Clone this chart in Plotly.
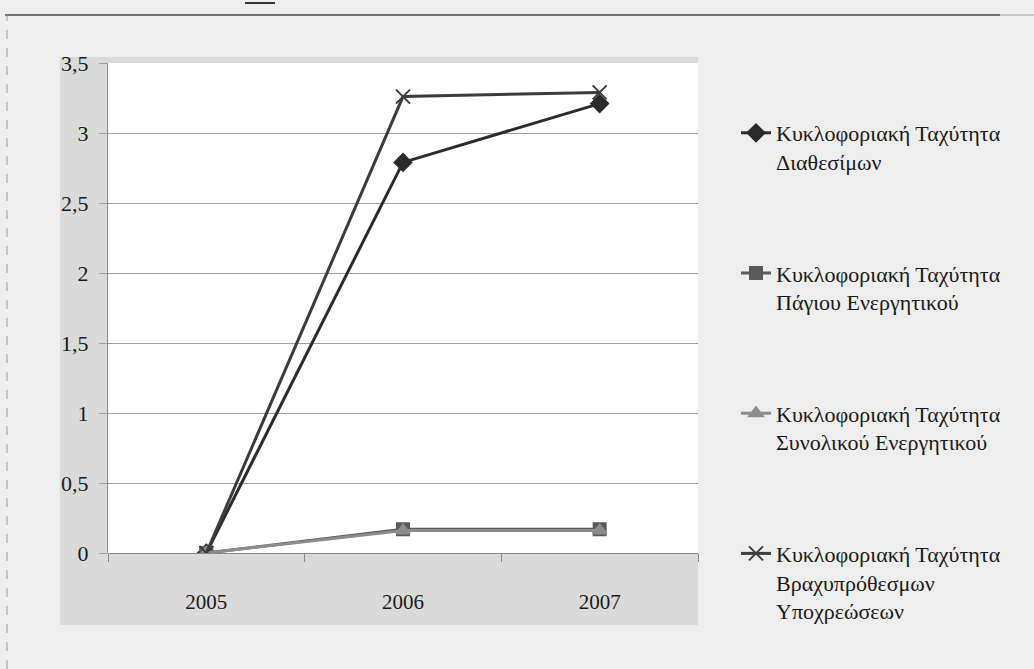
import plotly.graph_objects as go

# Years on the category axis
years = ["2005", "2006", "2007"]

# Turnover ratios per year
diathesimon = [0.0, 2.79, 3.21]
pagiou = [0.0, 0.17, 0.17]
synolikou = [0.0, 0.16, 0.16]
vraxyprothesmon = [0.0, 3.26, 3.29]

series_names = [
    "Κυκλοφοριακή Ταχύτητα<br>Διαθεσίμων",
    "Κυκλοφοριακή Ταχύτητα<br>Πάγιου Ενεργητικού",
    "Κυκλοφοριακή Ταχύτητα<br>Συνολικού Ενεργητικού",
    "Κυκλοφοριακή Ταχύτητα<br>Βραχυπρόθεσμων<br>Υποχρεώσεων",
]

y_tickvals = [0, 0.5, 1, 1.5, 2, 2.5, 3, 3.5]
y_ticktext = ["0", "0,5", "1", "1,5", "2", "2,5", "3", "3,5"]

W, H = 1034, 669
L, R, T, B = 108, 698, 63, 553  # plot area in pixels


def px_x(p):
    return (p - L) / (R - L)


def px_y(p):
    return (B - p) / (B - T)


font_family = "Liberation Serif, DejaVu Serif, serif"

fig = go.Figure()

styles = [
    (diathesimon, "#2b2b2b", "diamond", 13),
    (pagiou, "#5a5a5a", "square", 12),
    (synolikou, "#8c8c8c", "triangle-up", 12),
    (vraxyprothesmon, "#3c3c3c", "x-thin-open", 14),
]

for i, (vals, color, sym, size) in enumerate(styles):
    fig.add_trace(go.Scatter(
        x=years, y=vals, name=series_names[i],
        mode="lines+markers",
        line=dict(color=color, width=3),
        marker=dict(symbol=sym, size=size, color=color,
                    line=dict(color=color, width=2)),
        legendgroup=f"g{i}",
    ))

shapes = [
    # grainy chart-area backdrop
    dict(type="rect", xref="paper", yref="paper", layer="below",
         x0=px_x(60), x1=px_x(698), y0=px_y(625), y1=px_y(57),
         fillcolor="#dadada", line=dict(width=0)),
    # white plotting area
    dict(type="rect", xref="paper", yref="paper", layer="below",
         x0=0, x1=1, y0=0, y1=1,
         fillcolor="#ffffff", line=dict(width=0)),
    # page frame: top rule
    dict(type="line", xref="paper", yref="paper",
         x0=px_x(5), x1=px_x(1000), y0=px_y(15), y1=px_y(15),
         line=dict(color="#707070", width=2)),
    dict(type="line", xref="paper", yref="paper",
         x0=px_x(1000), x1=px_x(1034), y0=px_y(15), y1=px_y(15),
         line=dict(color="#c8c8c8", width=2)),
    # page frame: left rule
    dict(type="line", xref="paper", yref="paper",
         x0=px_x(7), x1=px_x(7), y0=px_y(669), y1=px_y(15),
         line=dict(color="#9a9a9a", width=1, dash="dash")),
    # small mark above the frame
    dict(type="line", xref="paper", yref="paper",
         x0=px_x(245), x1=px_x(275), y0=px_y(3), y1=px_y(3),
         line=dict(color="#333333", width=2)),
]

fig.update_layout(
    width=W, height=H,
    margin=dict(l=L, r=W - R, t=T, b=H - B, pad=0),
    paper_bgcolor="#eeeeee",
    plot_bgcolor="rgba(0,0,0,0)",
    font=dict(family=font_family, color="#1a1a1a"),
    shapes=shapes,
    showlegend=True,
    legend=dict(
        x=px_x(736), y=px_y(112), xanchor="left", yanchor="top",
        bgcolor="rgba(0,0,0,0)", borderwidth=0,
        font=dict(family=font_family, size=22, color="#1a1a1a"),
        valign="top", tracegroupgap=80, itemwidth=30,
        traceorder="grouped", maxheight=640,
    ),
    xaxis=dict(
        type="category", range=[-0.5, 2.5],
        showgrid=False, showline=False, zeroline=False,
        ticks="outside", ticklen=8, tickcolor="#8a8a8a", tickwidth=1,
        tickson="boundaries",
        ticklabelstandoff=34,
        tickfont=dict(family=font_family, size=21, color="#1a1a1a"),
        fixedrange=True,
    ),
    yaxis=dict(
        range=[0, 3.5],
        tickvals=y_tickvals, ticktext=y_ticktext,
        showgrid=True, gridcolor="#a0a0a0", gridwidth=1,
        showline=True, linecolor="#8a8a8a", linewidth=1,
        zeroline=True, zerolinecolor="#8a8a8a", zerolinewidth=1,
        ticks="outside", ticklen=8, tickcolor="#a0a0a0",
        ticklabelstandoff=6,
        tickfont=dict(family=font_family, size=22, color="#1a1a1a"),
        fixedrange=True,
    ),
)

fig.write_html("out.html")
